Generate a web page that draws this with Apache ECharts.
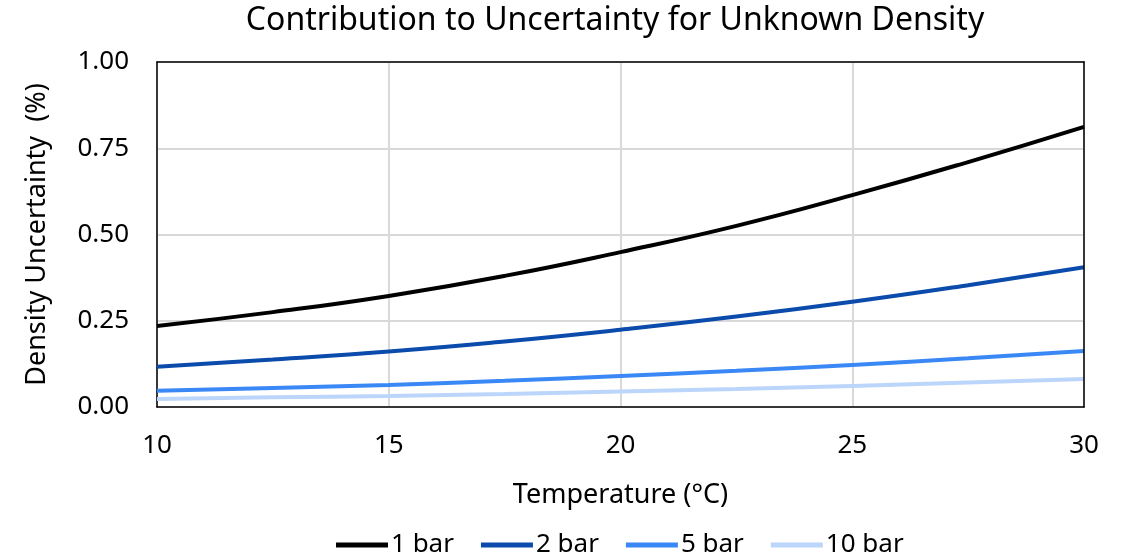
<!DOCTYPE html>
<html>
<head>
<meta charset="utf-8">
<script src="https://cdn.jsdelivr.net/npm/echarts@6/dist/echarts.min.js"></script>
<style>
  html, body { margin: 0; padding: 0; background: #fff; }
  #chart { width: 1127px; height: 557px; }
</style>
</head>
<body>
<div id="chart"></div>
<script>
// temperatures (°C)
var temps = [10, 12.5, 15, 17.5, 20, 22.5, 25, 27.5, 30];
// density uncertainty (%) for each pressure
var bar1  = [0.235, 0.275, 0.322, 0.380, 0.449, 0.525, 0.614, 0.710, 0.812];
var bar2  = [0.117, 0.138, 0.161, 0.190, 0.224, 0.262, 0.305, 0.353, 0.405];
var bar5  = [0.047, 0.055, 0.064, 0.076, 0.090, 0.105, 0.122, 0.141, 0.162];
var bar10 = [0.023, 0.028, 0.032, 0.038, 0.045, 0.052, 0.061, 0.071, 0.081];

var names  = ['1 bar', '2 bar', '5 bar', '10 bar'];
var colors = ['#000000', '#0a4bab', '#3a88f5', '#bcd6fb'];

function pairs(vals) {
  var out = [];
  for (var i = 0; i < temps.length; i++) out.push([temps[i], vals[i]]);
  return out;
}

var font = '"Noto Sans", sans-serif';
var chart = echarts.init(document.getElementById('chart'), null, {renderer: 'canvas'});

var series = [bar1, bar2, bar5, bar10].map(function (vals, i) {
  return {
    name: names[i],
    type: 'line',
    smooth: true,
    symbol: 'none',
    data: pairs(vals),
    lineStyle: {color: colors[i], width: 4},
    itemStyle: {color: colors[i]}
  };
});

// plain black frame for the top and right edges
var frame = {
  show: true,
  z: 10,
  axisLine: {show: true, onZero: false, lineStyle: {color: '#000', width: 1.5}},
  axisTick: {show: false},
  axisLabel: {show: false},
  splitLine: {show: false}
};

chart.setOption({
  animation: false,
  textStyle: {fontFamily: font},
  title: {
    text: 'Contribution to Uncertainty for Unknown Density',
    left: 610,
    textAlign: 'center',
    top: 0,
    textStyle: {fontFamily: font, fontSize: 32, fontWeight: 'normal', color: '#000'}
  },
  grid: {left: 157, right: 43, top: 62, bottom: 150},
  legend: {
    top: 527,
    left: 331,
    icon: 'rect',
    itemWidth: 52,
    itemHeight: 5,
    itemGap: 27,
    textStyle: {fontFamily: font, fontSize: 26, color: '#000', padding: [0, 0, 0, -2]},
    data: names
  },
  xAxis: [{
    type: 'value',
    min: 10, max: 30, interval: 5,
    name: 'Temperature (°C)',
    nameLocation: 'middle',
    nameGap: 75,
    nameTextStyle: {fontFamily: font, fontSize: 27, color: '#000'},
    axisLine: {lineStyle: {color: '#000', width: 1.5}},
    axisTick: {show: false},
    axisLabel: {fontSize: 26, color: '#000', margin: 26},
    splitLine: {show: true, lineStyle: {color: '#d9d9d9', width: 2}}
  }, Object.assign({type: 'value', position: 'top', min: 10, max: 30}, frame)],
  yAxis: [{
    type: 'value',
    min: 0, max: 1, interval: 0.25,
    name: 'Density Uncertainty  (%)',
    nameLocation: 'middle',
    nameGap: 106,
    nameRotate: 90,
    nameTextStyle: {fontFamily: font, fontSize: 27, color: '#000'},
    axisLine: {show: true, lineStyle: {color: '#000', width: 1.5}},
    axisTick: {show: false},
    axisLabel: {
      fontSize: 26, color: '#000', margin: 28,
      formatter: function (v) { return v.toFixed(2); }
    },
    splitLine: {show: true, lineStyle: {color: '#d9d9d9', width: 2}}
  }, Object.assign({type: 'value', position: 'right', min: 0, max: 1}, frame)],
  series: series
});
</script>
</body>
</html>
